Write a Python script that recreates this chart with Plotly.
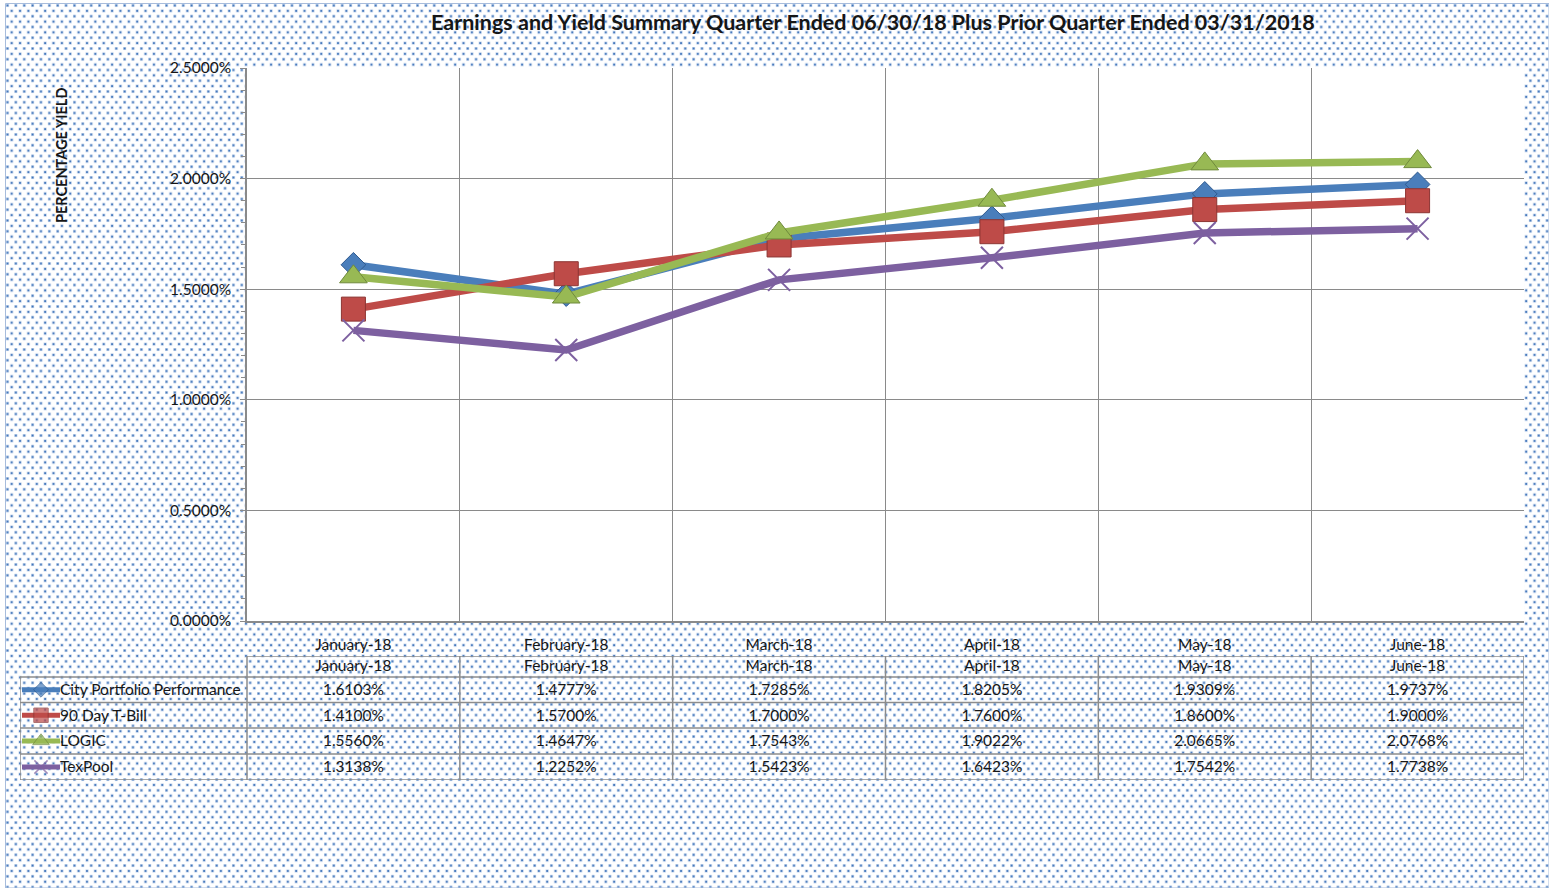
import base64
import plotly.graph_objects as go

# ---------------- data ----------------
months = ["January-18", "February-18", "March-18", "April-18", "May-18", "June-18"]
series_names = ["City Portfolio Performance", "90 Day T-Bill", "LOGIC", "TexPool"]
city = [1.6103, 1.4777, 1.7285, 1.8205, 1.9309, 1.9737]
tbill = [1.4100, 1.5700, 1.7000, 1.7600, 1.8600, 1.9000]
logic = [1.5560, 1.4647, 1.7543, 1.9022, 2.0665, 2.0768]
texpool = [1.3138, 1.2252, 1.5423, 1.6423, 1.7542, 1.7738]
y_ticks = [0.0, 0.5, 1.0, 1.5, 2.0, 2.5]
y_ticklabels = [f"{v:.4f}%" for v in y_ticks]

title = "Earnings and Yield Summary Quarter Ended 06/30/18 Plus Prior Quarter Ended 03/31/2018"
y_title = "PERCENTAGE YIELD"

# ---------------- style ----------------
W, H = 1549, 888
FONT = "Lato"
FS = 15.5
TXT = "#161616"
colors = ["#4a7ebb", "#be4b48", "#98b954", "#7d60a0"]
edge = ["#2f5a8f", "#8c3533", "#6f8a3c", "#7d60a0"]
symbols = ["diamond", "square", "triangle-up", "x-thin-open"]
msizes = [19, 24, 24, 22]
all_series = [city, tbill, logic, texpool]

def px_x(p):
    return p / W

def px_y(p):
    return 1 - p / H

# plot area in pixels
PL, PR, PT, PB = 247, 1524, 68, 621
# table area
TL, TT, TB = 20, 656, 780
unit = (PR - PL) / len(months)
x2_left = -0.5 - (PL - TL) / unit
row_bounds = [0, 21, 46.5, 72, 98, 124]
row_centers = [(row_bounds[i] + row_bounds[i + 1]) / 2 for i in range(5)]
text_dy = 1.5  # optical centring of text inside rows

xs = list(range(len(months)))

fig = go.Figure()

for i, (name, vals) in enumerate(zip(series_names, all_series)):
    mline = dict(color=edge[i], width=1) if symbols[i] != "x-thin-open" else dict(color="#7d60a0", width=2)
    fig.add_trace(go.Scatter(
        x=xs, y=vals, name=name, mode="lines+markers",
        line=dict(color=colors[i], width=7.5),
        marker=dict(symbol=symbols[i], size=msizes[i], color=colors[i], line=mline),
        showlegend=False, xaxis="x", yaxis="y", cliponaxis=False,
    ))

# table: legend keys
for i, name in enumerate(series_names):
    r = row_centers[i + 1]
    a = x2_left + 2 / unit
    b = x2_left + 40 / unit
    m = (a + b) / 2
    msz = [0, msizes[i] * 0.6, 0]
    mline = dict(color=edge[i], width=1) if symbols[i] != "x-thin-open" else dict(color="#7d60a0", width=1.5)
    fig.add_trace(go.Scatter(
        x=[a, m, b], y=[r, r, r], mode="lines+markers",
        line=dict(color=colors[i], width=5),
        marker=dict(symbol=symbols[i], size=msz, color=colors[i], line=mline),
        showlegend=False, xaxis="x2", yaxis="y2", hoverinfo="skip", cliponaxis=False,
    ))
    fig.add_trace(go.Scatter(
        x=[x2_left + 40 / unit], y=[r + text_dy], mode="text", text=[name],
        textposition="middle right", textfont=dict(family=FONT, size=FS, color=TXT),
        showlegend=False, xaxis="x2", yaxis="y2", hoverinfo="skip", cliponaxis=False,
    ))

# table: cell text
tx, ty, tt = [], [], []
for j, mth in enumerate(months):
    tx.append(j); ty.append(row_centers[0] + 0.5); tt.append(mth)
for i, vals in enumerate(all_series):
    for j, v in enumerate(vals):
        tx.append(j); ty.append(row_centers[i + 1] + text_dy); tt.append(f"{v:.4f}%")
fig.add_trace(go.Scatter(
    x=tx, y=ty, text=tt, mode="text", textposition="middle center",
    textfont=dict(family=FONT, size=FS, color=TXT),
    showlegend=False, xaxis="x2", yaxis="y2", hoverinfo="skip", cliponaxis=False,
))

# table borders
shapes = []
border = dict(color="#8c8c8c", width=1.5)
for k in range(len(months) + 1):
    xv = k - 0.5
    shapes.append(dict(type="line", xref="x2", yref="y2", x0=xv, x1=xv, y0=0, y1=row_bounds[-1], line=border, layer="above"))
shapes.append(dict(type="line", xref="x2", yref="y2", x0=x2_left, x1=x2_left, y0=row_bounds[1], y1=row_bounds[-1], line=border, layer="above"))
shapes.append(dict(type="line", xref="x2", yref="y2", x0=-0.5, x1=len(months) - 0.5, y0=0, y1=0, line=border, layer="above"))
for rb in row_bounds[1:]:
    shapes.append(dict(type="line", xref="x2", yref="y2", x0=x2_left, x1=len(months) - 0.5, y0=rb, y1=rb, line=border, layer="above"))

# white plot area over the pattern
shapes.append(dict(type="rect", xref="paper", yref="paper", x0=px_x(PL), x1=px_x(PR), y0=px_y(PB), y1=px_y(PT),
                   fillcolor="white", line=dict(width=0), layer="below"))
# outer border
shapes.append(dict(type="rect", xref="paper", yref="paper", x0=px_x(5.5), x1=1, y0=0, y1=px_y(3.5),
                   fillcolor="rgba(0,0,0,0)", line=dict(color="#a7bcdc", width=1), layer="above"))

# dotted background pattern
pw, ph = 8.4, 10.8
svg = (
    f'<svg xmlns="http://www.w3.org/2000/svg" width="{W}" height="{H}">'
    f'<defs><pattern id="p" width="{pw}" height="{ph}" patternUnits="userSpaceOnUse">'
    f'<rect x="0" y="0" width="3" height="3" fill="#6c98d0" opacity="0.45"/>'
    f'<rect x="0.6" y="0.6" width="1.8" height="1.8" fill="#3d72b8"/>'
    f'<rect x="{pw/2}" y="{ph/2}" width="3" height="3" fill="#6c98d0" opacity="0.45"/>'
    f'<rect x="{pw/2+0.6}" y="{ph/2+0.6}" width="1.8" height="1.8" fill="#3d72b8"/>'
    f'</pattern></defs>'
    f'<rect width="100%" height="100%" fill="white"/>'
    f'<rect width="100%" height="100%" fill="url(#p)"/></svg>'
)
src = "data:image/svg+xml;base64," + base64.b64encode(svg.encode()).decode()
images = [dict(source=src, xref="paper", yref="paper", x=px_x(6), y=px_y(4),
               sizex=1 - px_x(6), sizey=px_y(4), sizing="stretch", xanchor="left", yanchor="top", layer="below")]

annotations = [
    dict(text=f"<b>{title}</b>", x=px_x(873), y=px_y(22), xref="paper", yref="paper",
         showarrow=False, font=dict(family=FONT, size=21.5, color=TXT), xanchor="center", yanchor="middle"),
    dict(text=f"<b>{y_title}</b>", x=px_x(62), y=px_y(155), xref="paper", yref="paper",
         showarrow=False, textangle=-90, font=dict(family=FONT, size=14.5, color=TXT),
         xanchor="center", yanchor="middle"),
]

grid = "#8a8a8a"
fig.update_layout(
    template="none",
    width=W, height=H, autosize=False, margin=dict(l=0, r=0, t=0, b=0, pad=0),
    paper_bgcolor="white", plot_bgcolor="white",
    font=dict(family=FONT, size=FS, color=TXT),
    showlegend=False,
    shapes=shapes, images=images, annotations=annotations,
    xaxis=dict(domain=[px_x(PL), px_x(PR)], range=[-0.5, len(months) - 0.5], automargin=False,
               tickmode="array", tickvals=xs, ticktext=months, showgrid=False,
               minor=dict(tick0=-0.5, dtick=1, showgrid=True, gridcolor=grid, gridwidth=1),
               showline=True, linecolor=grid, linewidth=1.5, ticks="", zeroline=False,
               ticklabelstandoff=9,
               tickfont=dict(family=FONT, size=FS, color=TXT), fixedrange=True),
    yaxis=dict(domain=[px_y(PB), px_y(PT)], range=[0, 2.5], tickmode="array", tickvals=y_ticks,
               ticktext=y_ticklabels, showgrid=True, gridcolor=grid, gridwidth=1, automargin=False,
               showline=True, linecolor=grid, linewidth=1.5, ticks="outside", ticklen=5, tickcolor=grid,
               minor=dict(dtick=0.1, ticks="outside", ticklen=4, tickcolor=grid, showgrid=False),
               zeroline=False, ticklabelstandoff=6,
               tickfont=dict(family=FONT, size=FS, color=TXT), fixedrange=True),
    xaxis2=dict(domain=[px_x(TL), px_x(PR)], range=[x2_left, len(months) - 0.5], anchor="y2",
                visible=False, fixedrange=True, automargin=False),
    yaxis2=dict(domain=[px_y(TB), px_y(TT)], range=[row_bounds[-1], 0], anchor="x2",
                visible=False, fixedrange=True, automargin=False),
)

fig.write_html(
    "out.html", include_plotlyjs=True, full_html=True,
    config={"displayModeBar": False, "responsive": False},
    post_script=(
        "document.documentElement.style.margin='0';document.body.style.margin='0';"
        "document.body.style.overflow='hidden';"
        "var d=document.getElementById('{plot_id}');d.style.position='fixed';d.style.top='0px';d.style.left='0px';"
    ),
)
